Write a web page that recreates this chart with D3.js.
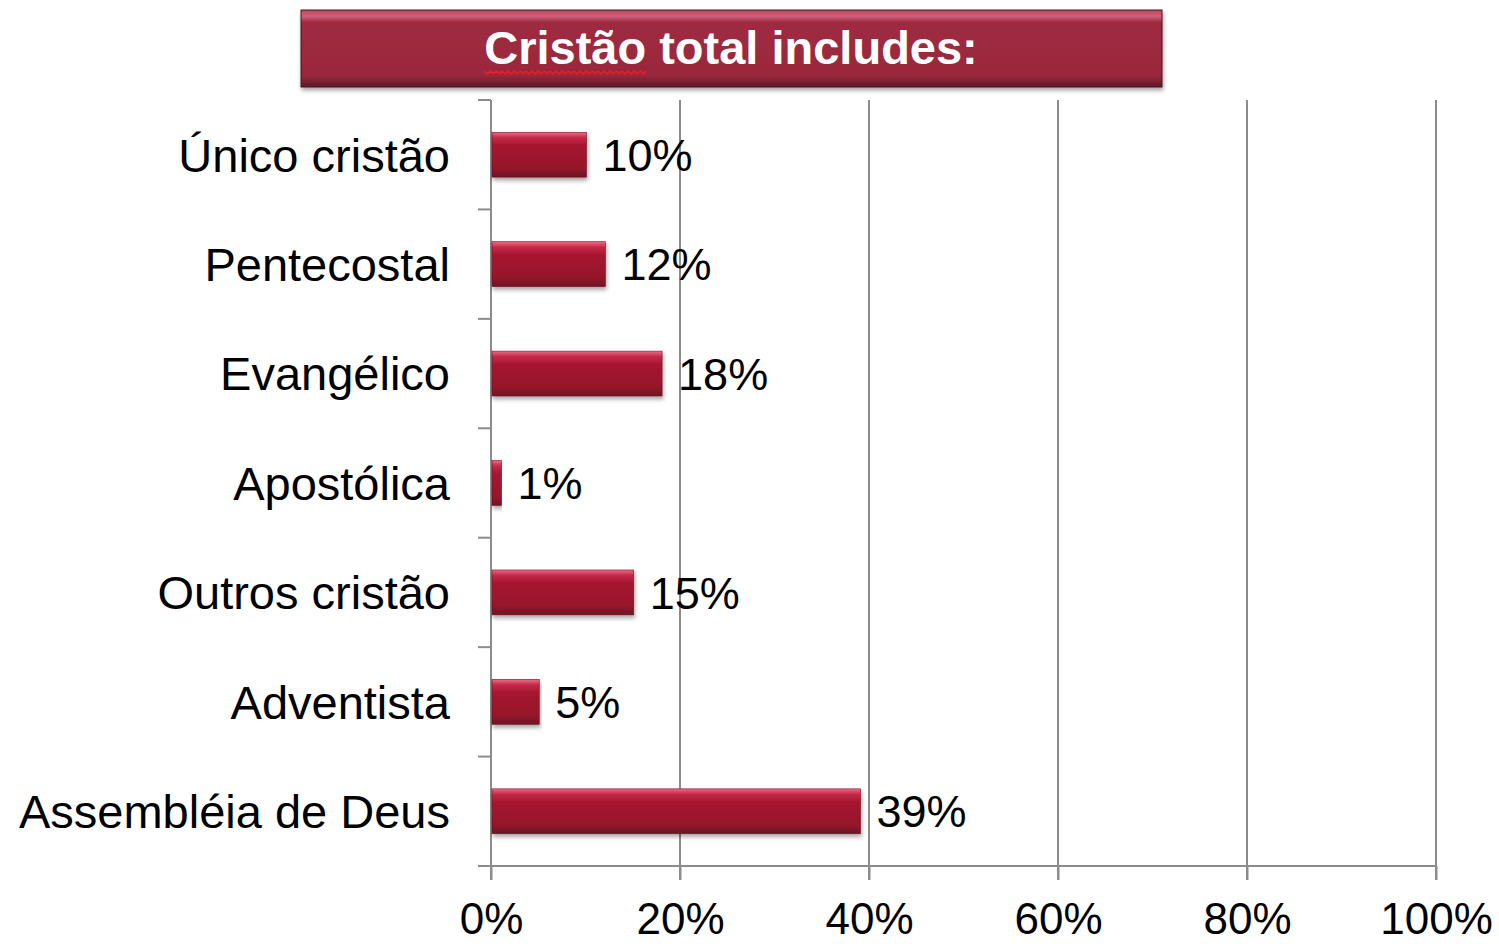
<!doctype html>
<html lang="pt">
<head>
  <meta charset="utf-8">
  <title>Cristão total includes</title>
  <style>
   body {
       margin: 0;
       background-color: #ffffff;
       font-family: "Liberation Sans", Arial, helvetica, sans-serif;
   }
   .grid line {
       stroke: #8c8c8c;
       stroke-width: 2;
   }
   .axis path, .axis line {
       stroke: #8c8c8c;
       stroke-width: 2;
   }
  </style>
</head>
<body>
  <svg id="chart" width="1499" height="944" xmlns="http://www.w3.org/2000/svg"></svg>
  <script src="https://d3js.org/d3.v7.min.js"></script>
  <script>

   // chart data
   var titleText = "Cristão total includes:";
   var categories = ["Único cristão", "Pentecostal", "Evangélico", "Apostólica",
                     "Outros cristão", "Adventista", "Assembléia de Deus"];
   var values = [10, 12, 18, 1, 15, 5, 39];
   var xTicks = [0, 20, 40, 60, 80, 100];

   var margin = {top: 100, right: 63, bottom: 78, left: 491};
   var width = 1499, height = 944;

   var svg = d3.select("#chart");
   var defs = svg.append("defs");

   // glossy gradient for bars
   var barGrad = defs.append("linearGradient")
       .attr("id", "barGrad")
       .attr("x1", 0).attr("y1", 0).attr("x2", 0).attr("y2", 1);
   barGrad.append("stop").attr("offset", "0%").attr("stop-color", "#f06a86");
   barGrad.append("stop").attr("offset", "12%").attr("stop-color", "#c42a48");
   barGrad.append("stop").attr("offset", "30%").attr("stop-color", "#a5162f");
   barGrad.append("stop").attr("offset", "80%").attr("stop-color", "#96122b");
   barGrad.append("stop").attr("offset", "100%").attr("stop-color", "#6a1424");

   // bevel gradient for the title box
   var titleGrad = defs.append("linearGradient")
       .attr("id", "titleGrad")
       .attr("x1", 0).attr("y1", 0).attr("x2", 0).attr("y2", 1);
   titleGrad.append("stop").attr("offset", "0%").attr("stop-color", "#b9485c");
   titleGrad.append("stop").attr("offset", "8%").attr("stop-color", "#d0607a");
   titleGrad.append("stop").attr("offset", "16%").attr("stop-color", "#9e2a40");
   titleGrad.append("stop").attr("offset", "85%").attr("stop-color", "#9a283d");
   titleGrad.append("stop").attr("offset", "100%").attr("stop-color", "#5e1a27");

   var shadow = defs.append("filter").attr("id", "shadow")
       .attr("x", "-5%").attr("y", "-20%").attr("width", "110%").attr("height", "160%");
   shadow.append("feDropShadow")
       .attr("dx", 1).attr("dy", 3).attr("stdDeviation", 2)
       .attr("flood-color", "#000").attr("flood-opacity", 0.35);

   var x = d3.scaleLinear()
       .domain([0, 100])
       .range([margin.left, width - margin.right]);

   var y = d3.scaleBand()
       .domain(categories)
       .range([margin.top, height - margin.bottom])
       .paddingInner(0.59)
       .paddingOuter(0.295);

   var band = d3.scaleBand()
       .domain(categories)
       .range([margin.top, height - margin.bottom]);

   var axisY = height - margin.bottom;

   // vertical gridlines (run through the tick marks below the axis)
   svg.append("g")
      .attr("class", "grid")
      .selectAll("line")
      .data(xTicks.slice(1))
      .enter()
      .append("line")
      .attr("x1", function(d) { return x(d); })
      .attr("x2", function(d) { return x(d); })
      .attr("y1", margin.top)
      .attr("y2", axisY + 14);

   // x axis
   var xAxis = svg.append("g")
      .attr("class", "axis")
      .attr("transform", "translate(0," + axisY + ")")
      .call(d3.axisBottom(x)
            .tickValues(xTicks)
            .tickSize(14)
            .tickSizeOuter(0)
            .tickFormat(function(d) { return d + "%"; }));
   xAxis.select(".domain").attr("d", "M" + (margin.left - 13) + ",0H" + (width - margin.right));
   xAxis.selectAll("text")
        .attr("fill", "#000")
        .attr("font-family", "'Liberation Sans', Arial, sans-serif")
        .attr("font-size", 44)
        .attr("dy", "0.71em")
        .attr("y", 37);

   // y axis line + category separators
   var yAxis = svg.append("g")
      .attr("class", "axis");
   yAxis.append("line")
        .attr("x1", margin.left).attr("x2", margin.left)
        .attr("y1", margin.top).attr("y2", axisY + 14);
   yAxis.selectAll("line.sep")
        .data(categories.slice(1))
        .enter()
        .append("line")
        .attr("class", "sep")
        .attr("x1", margin.left - 13).attr("x2", margin.left)
        .attr("y1", function(d) { return band(d); })
        .attr("y2", function(d) { return band(d); });
   yAxis.append("line")
        .attr("x1", margin.left - 13).attr("x2", margin.left)
        .attr("y1", margin.top).attr("y2", margin.top);

   // category labels
   svg.append("g")
      .selectAll("text")
      .data(categories)
      .enter()
      .append("text")
      .attr("x", margin.left - 41)
      .attr("y", function(d) { return band(d) + band.bandwidth() / 2; })
      .attr("dy", "0.36em")
      .attr("text-anchor", "end")
      .attr("font-size", 47)
      .attr("fill", "#000")
      .text(function(d) { return d; });

   // bars
   svg.append("g")
      .selectAll("rect")
      .data(values)
      .enter()
      .append("rect")
      .attr("x", x(0) + 1)
      .attr("y", function(d, i) { return y(categories[i]); })
      .attr("width", function(d) { return x(d) - x(0); })
      .attr("height", y.bandwidth())
      .attr("fill", "url(#barGrad)")
      .attr("stroke", "#7a1022")
      .attr("stroke-width", 0.6)
      .attr("filter", "url(#shadow)");

   // value labels
   svg.append("g")
      .selectAll("text")
      .data(values)
      .enter()
      .append("text")
      .attr("x", function(d) { return x(d) + 17; })
      .attr("y", function(d, i) { return band(categories[i]) + band.bandwidth() / 2; })
      .attr("dy", "0.36em")
      .attr("font-size", 45)
      .attr("fill", "#000")
      .text(function(d) { return d + "%"; });

   // title box
   var title = svg.append("g");
   title.append("rect")
        .attr("x", 301).attr("y", 10)
        .attr("width", 861).attr("height", 77)
        .attr("fill", "url(#titleGrad)")
        .attr("stroke", "#4a1420")
        .attr("stroke-width", 1)
        .attr("filter", "url(#shadow)");
   var tt = title.append("text")
        .attr("x", 731)
        .attr("y", 47)
        .attr("dy", "0.36em")
        .attr("text-anchor", "middle")
        .attr("font-size", 47)
        .attr("font-weight", "bold")
        .attr("fill", "#fff")
        .text(titleText);

   // squiggly spell-check underline under the first word
   var firstWord = titleText.split(" ")[0];
   var startX = 731 - tt.node().getComputedTextLength() / 2;
   var tmp = title.append("text")
        .attr("font-size", 47).attr("font-weight", "bold")
        .attr("visibility", "hidden")
        .text(firstWord);
   var wordW = tmp.node().getComputedTextLength();
   tmp.remove();
   var squiggle = d3.path();
   squiggle.moveTo(startX, 71);
   for (var sx = startX, k = 0; sx < startX + wordW; sx += 3, k++) {
       squiggle.lineTo(sx + 3, k % 2 ? 71 : 74);
   }
   title.append("path")
        .attr("d", squiggle.toString())
        .attr("fill", "none")
        .attr("stroke", "#e8202a")
        .attr("stroke-width", 1.5);
  </script>
</body>
</html>
